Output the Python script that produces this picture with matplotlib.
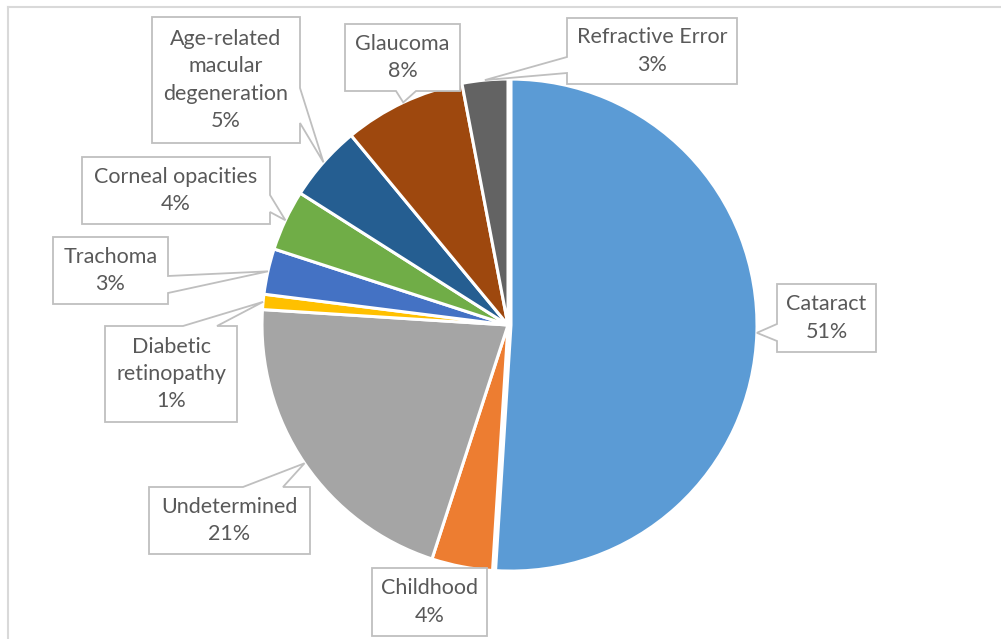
import numpy as np
import matplotlib
matplotlib.use("Agg")
import matplotlib.pyplot as plt
from matplotlib.patches import Polygon

# causes of blindness, share in percent (clockwise from 12 o'clock)
causes = ["Cataract", "Childhood", "Undetermined", "Diabetic\nretinopathy",
          "Trachoma", "Corneal opacities", "Age-related\nmacular\ndegeneration",
          "Glaucoma", "Refractive Error"]
shares = [51, 4, 21, 1, 3, 4, 5, 8, 3]
colors = ["#5B9BD5", "#ED7D31", "#A5A5A5", "#FFC000", "#4472C4",
          "#70AD47", "#255E91", "#9E480E", "#636363"]

W, H = 1001, 639

# label boxes in pixel coords: (left, top, right, bottom), pointer side, pointer base
boxes = [
    ((777, 284, 876, 352), "left", (324, 341)),
    ((372, 568, 487, 636), None, None),
    ((149, 487, 310, 554), "top", (243, 283)),
    ((105, 326, 237, 422), "top", (183, 217)),
    ((53, 237, 168, 304), "right", (276, 293)),
    ((82, 157, 270, 224), "right", (195, 212)),
    ((152, 17, 300, 143), "right", (88, 123)),
    ((345, 24, 460, 91), "bottom", (396, 416)),
    ((567, 18, 737, 84), "left", (57, 73)),
]

plt.rcParams["font.family"] = ["Lato", "DejaVu Sans"]

fig = plt.figure(figsize=(W / 100, H / 100), dpi=100)
ax = fig.add_axes([0, 0, 1, 1])

center = (508, H - 325)
radius = 246
explode = [3, 0, 0, 0, 0, 0, 0, 0, 0]
wedges, _ = ax.pie(shares, colors=colors, startangle=90, counterclock=False,
                   center=center, radius=radius, explode=explode,
                   wedgeprops=dict(edgecolor="white", linewidth=2.2))
ax.set_xlim(0, W)
ax.set_ylim(0, H)
ax.set_aspect("equal")
ax.axis("off")

# chart area border
ax.plot([8, W], [H - 7, H - 7], color="#D9D9D9", lw=1.5, zorder=1)
ax.plot([8, 8], [H - 7, 0], color="#D9D9D9", lw=1.5, zorder=1)


def callout(box, side, base, tip):
    l, t, r, b = box
    if side == "right":
        pts = [(l, t), (r, t), (r, base[0]), tip, (r, base[1]), (r, b), (l, b)]
    elif side == "left":
        pts = [(l, t), (r, t), (r, b), (l, b), (l, base[1]), tip, (l, base[0])]
    elif side == "top":
        pts = [(l, t), (base[0], t), tip, (base[1], t), (r, t), (r, b), (l, b)]
    elif side == "bottom":
        pts = [(l, t), (r, t), (r, b), (base[1], b), tip, (base[0], b), (l, b)]
    else:
        pts = [(l, t), (r, t), (r, b), (l, b)]
    pts = [(x, H - y) if (x, y) != tip else tip for x, y in pts]
    ax.add_patch(Polygon(pts, closed=True, facecolor="white",
                         edgecolor="#BFBFBF", lw=1.3, zorder=5))


for w, name, val, (box, side, base) in zip(wedges, causes, shares, boxes):
    mid = np.deg2rad((w.theta1 + w.theta2) / 2)
    tip = (w.center[0] + w.r * np.cos(mid), w.center[1] + w.r * np.sin(mid))
    callout(box, side, base, tip)
    l, t, r, b = box
    ax.text((l + r) / 2, H - (t + b) / 2, f"{name}\n{val}%", ha="center",
            va="center", fontsize=15.5, color="#595959", linespacing=1.45,
            zorder=6)

fig.savefig("out.png", dpi=100)
